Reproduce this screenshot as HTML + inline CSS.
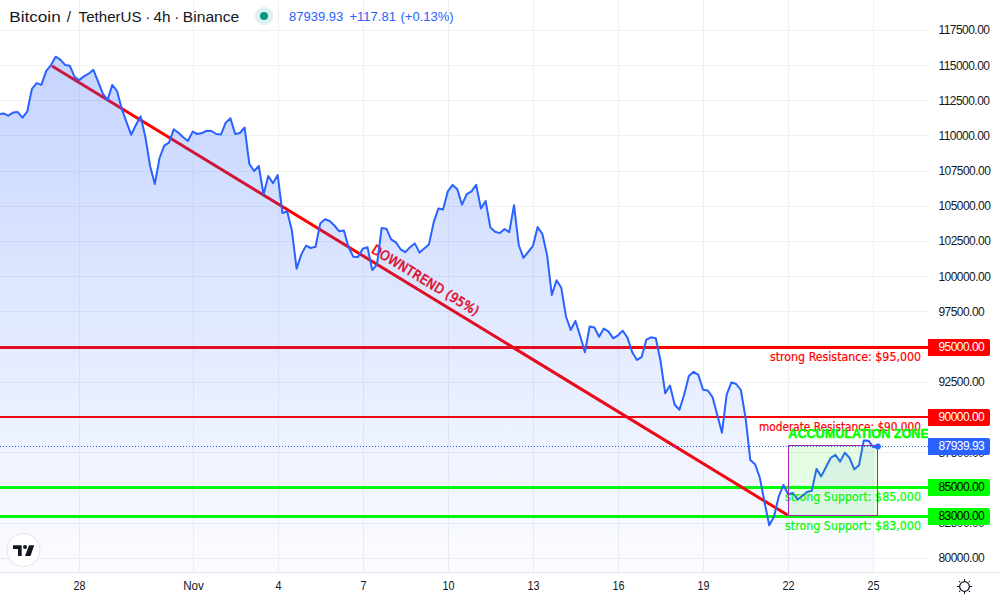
<!DOCTYPE html>
<html><head><meta charset="utf-8"><style>
html,body{margin:0;padding:0;background:#fff;width:1000px;height:600px;overflow:hidden}
svg{display:block}
.ax{font-family:"Liberation Sans",sans-serif;font-size:12px;fill:#131722;letter-spacing:-0.55px}
.tm{font-family:"Liberation Sans",sans-serif;font-size:12px;fill:#131722}
.ann{font-family:"DejaVu Sans Condensed","DejaVu Sans",sans-serif;font-size:12px;stroke-width:0.2px}
</style></head><body>
<svg width="1000" height="600" viewBox="0 0 1000 600">
<defs>
<linearGradient id="ag" x1="0" y1="56" x2="0" y2="572" gradientUnits="userSpaceOnUse">
<stop offset="0" stop-color="#2962ff" stop-opacity="0.27"/>
<stop offset="1" stop-color="#2962ff" stop-opacity="0.016"/>
</linearGradient>
<clipPath id="pane"><rect x="0" y="0" width="928" height="572"/></clipPath>
</defs>
<rect width="1000" height="600" fill="#fff"/>
<g fill="#f0f0f2">
<rect x="0" y="30" width="928" height="1"/>
<rect x="0" y="65" width="928" height="1"/>
<rect x="0" y="100" width="928" height="1"/>
<rect x="0" y="135" width="928" height="1"/>
<rect x="0" y="171" width="928" height="1"/>
<rect x="0" y="206" width="928" height="1"/>
<rect x="0" y="241" width="928" height="1"/>
<rect x="0" y="276" width="928" height="1"/>
<rect x="0" y="311" width="928" height="1"/>
<rect x="0" y="347" width="928" height="1"/>
<rect x="0" y="382" width="928" height="1"/>
<rect x="0" y="417" width="928" height="1"/>
<rect x="0" y="452" width="928" height="1"/>
<rect x="0" y="487" width="928" height="1"/>
<rect x="0" y="523" width="928" height="1"/>
<rect x="0" y="558" width="928" height="1"/>
<rect x="79" y="0" width="1" height="572"/>
<rect x="193" y="0" width="1" height="572"/>
<rect x="278" y="0" width="1" height="572"/>
<rect x="363" y="0" width="1" height="572"/>
<rect x="448" y="0" width="1" height="572"/>
<rect x="533" y="0" width="1" height="572"/>
<rect x="618" y="0" width="1" height="572"/>
<rect x="703" y="0" width="1" height="572"/>
<rect x="788" y="0" width="1" height="572"/>
<rect x="873" y="0" width="1" height="572"/>
</g>
<g clip-path="url(#pane)">
<!-- drawings under fill -->
<rect x="0" y="346" width="928" height="3" fill="#ff0000"/>
<rect x="0" y="416" width="928" height="2" fill="#ff0000"/>
<rect x="0" y="486" width="928" height="3" fill="#00ff00"/>
<rect x="0" y="515" width="928" height="3" fill="#00ff00"/>
<line x1="52" y1="66" x2="787.5" y2="515" stroke="#ff0000" stroke-width="3"/>
<text class="ann" fill="#ff0000" stroke="#ff0000" x="921" y="360.8" text-anchor="end" textLength="151" lengthAdjust="spacingAndGlyphs">strong Resistance: $95,000</text>
<text class="ann" fill="#ff0000" stroke="#ff0000" x="921" y="431" text-anchor="end" textLength="162" lengthAdjust="spacingAndGlyphs">moderate Resistance: $90,000</text>
<text class="ann" fill="#00ff00" stroke="#00ff00" x="921" y="500.6" text-anchor="end" textLength="136" lengthAdjust="spacingAndGlyphs">strong Support: $85,000</text>
<text class="ann" fill="#00ff00" stroke="#00ff00" x="921" y="529.6" text-anchor="end" textLength="136" lengthAdjust="spacingAndGlyphs">strong Support: $83,000</text>
<text class="ann" fill="#ff0000" stroke="#ff0000" stroke-width="0.55" style="font-size:13.3px;font-family:'DejaVu Sans Condensed','DejaVu Sans',sans-serif;stroke-width:0.55px" transform="translate(370.6,252.2) rotate(31.40)" textLength="123">DOWNTREND (95%)</text>
<!-- area -->
<path d="M0.00,114.00 L3.58,113.40 L8.31,115.70 L13.03,112.60 L17.76,112.10 L22.49,117.70 L27.21,111.60 L31.94,88.90 L36.66,83.10 L41.39,84.90 L46.12,71.10 L50.84,65.30 L55.57,56.70 L60.30,59.60 L65.02,64.90 L69.75,65.70 L74.47,76.70 L79.20,80.10 L83.93,76.30 L88.65,73.70 L93.38,69.80 L98.10,81.70 L102.83,93.60 L107.56,100.10 L112.28,84.90 L117.01,91.00 L121.74,108.80 L126.46,121.80 L131.19,134.80 L135.91,125.00 L140.64,116.40 L145.37,137.00 L150.09,166.00 L154.82,184.00 L159.54,158.00 L164.27,145.70 L169.00,142.70 L173.72,129.30 L178.45,132.70 L183.18,137.30 L187.90,141.00 L192.63,131.60 L197.35,134.00 L202.08,133.00 L206.81,130.70 L211.53,131.00 L216.26,134.00 L220.99,134.40 L225.71,122.70 L230.44,118.30 L235.16,134.00 L239.89,133.00 L244.62,127.50 L249.34,164.00 L254.07,171.00 L258.79,166.00 L263.52,194.50 L268.25,176.00 L272.97,183.30 L277.70,175.00 L282.43,213.10 L287.15,211.30 L291.88,230.60 L296.60,268.70 L301.33,254.40 L306.06,245.60 L310.78,248.00 L315.51,246.70 L320.23,223.60 L324.96,219.20 L329.69,221.00 L334.41,225.50 L339.14,231.30 L343.87,230.40 L348.59,247.30 L353.32,256.70 L358.04,257.00 L362.77,248.70 L367.50,247.30 L372.22,270.00 L376.95,264.70 L381.67,228.00 L386.40,228.70 L391.13,239.30 L395.85,242.40 L400.58,249.30 L405.31,252.10 L410.03,247.30 L414.76,243.40 L419.48,252.60 L424.21,248.40 L428.94,244.40 L433.66,222.40 L438.39,208.60 L443.11,209.40 L447.84,191.30 L452.57,184.90 L457.29,189.20 L462.02,204.70 L466.75,194.10 L471.47,191.30 L476.20,184.90 L480.92,208.50 L485.65,201.10 L490.38,227.60 L495.10,231.80 L499.83,233.10 L504.56,229.10 L509.28,232.20 L514.01,205.20 L518.73,245.00 L523.46,257.90 L528.19,252.00 L532.91,246.00 L537.64,227.10 L542.36,234.00 L547.09,255.10 L551.82,295.00 L556.54,280.30 L561.27,287.80 L566.00,316.50 L570.72,330.00 L575.45,321.00 L580.17,336.00 L584.90,352.30 L589.63,326.60 L594.35,327.50 L599.08,336.80 L603.80,328.60 L608.53,331.60 L613.26,338.30 L617.98,335.30 L622.71,330.80 L627.44,337.60 L632.16,352.00 L636.89,359.90 L641.61,357.10 L646.34,339.70 L651.07,337.30 L655.79,338.20 L660.52,360.80 L665.24,393.30 L669.97,385.60 L674.70,404.80 L679.42,409.80 L684.15,394.70 L688.88,376.00 L693.60,371.80 L698.33,374.90 L703.05,389.80 L707.78,390.50 L712.51,397.10 L717.23,414.70 L721.96,432.70 L726.68,394.70 L731.41,382.40 L736.14,384.00 L740.86,390.00 L745.59,418.00 L750.32,460.00 L755.04,464.20 L759.77,477.50 L764.49,501.70 L769.22,525.30 L773.95,516.70 L778.67,496.70 L783.40,485.00 L788.13,494.20 L792.85,493.00 L797.58,499.50 L802.30,496.00 L807.03,492.00 L811.76,490.70 L816.48,468.90 L821.21,476.40 L825.93,467.30 L830.66,458.00 L835.39,454.70 L840.11,461.60 L844.84,452.70 L849.57,458.00 L854.29,469.30 L859.02,465.30 L863.74,440.40 L868.47,440.70 L873.20,447.20 L873.20,572 L0,572 Z" fill="url(#ag)"/>
<path d="M0.00,114.00 L3.58,113.40 L8.31,115.70 L13.03,112.60 L17.76,112.10 L22.49,117.70 L27.21,111.60 L31.94,88.90 L36.66,83.10 L41.39,84.90 L46.12,71.10 L50.84,65.30 L55.57,56.70 L60.30,59.60 L65.02,64.90 L69.75,65.70 L74.47,76.70 L79.20,80.10 L83.93,76.30 L88.65,73.70 L93.38,69.80 L98.10,81.70 L102.83,93.60 L107.56,100.10 L112.28,84.90 L117.01,91.00 L121.74,108.80 L126.46,121.80 L131.19,134.80 L135.91,125.00 L140.64,116.40 L145.37,137.00 L150.09,166.00 L154.82,184.00 L159.54,158.00 L164.27,145.70 L169.00,142.70 L173.72,129.30 L178.45,132.70 L183.18,137.30 L187.90,141.00 L192.63,131.60 L197.35,134.00 L202.08,133.00 L206.81,130.70 L211.53,131.00 L216.26,134.00 L220.99,134.40 L225.71,122.70 L230.44,118.30 L235.16,134.00 L239.89,133.00 L244.62,127.50 L249.34,164.00 L254.07,171.00 L258.79,166.00 L263.52,194.50 L268.25,176.00 L272.97,183.30 L277.70,175.00 L282.43,213.10 L287.15,211.30 L291.88,230.60 L296.60,268.70 L301.33,254.40 L306.06,245.60 L310.78,248.00 L315.51,246.70 L320.23,223.60 L324.96,219.20 L329.69,221.00 L334.41,225.50 L339.14,231.30 L343.87,230.40 L348.59,247.30 L353.32,256.70 L358.04,257.00 L362.77,248.70 L367.50,247.30 L372.22,270.00 L376.95,264.70 L381.67,228.00 L386.40,228.70 L391.13,239.30 L395.85,242.40 L400.58,249.30 L405.31,252.10 L410.03,247.30 L414.76,243.40 L419.48,252.60 L424.21,248.40 L428.94,244.40 L433.66,222.40 L438.39,208.60 L443.11,209.40 L447.84,191.30 L452.57,184.90 L457.29,189.20 L462.02,204.70 L466.75,194.10 L471.47,191.30 L476.20,184.90 L480.92,208.50 L485.65,201.10 L490.38,227.60 L495.10,231.80 L499.83,233.10 L504.56,229.10 L509.28,232.20 L514.01,205.20 L518.73,245.00 L523.46,257.90 L528.19,252.00 L532.91,246.00 L537.64,227.10 L542.36,234.00 L547.09,255.10 L551.82,295.00 L556.54,280.30 L561.27,287.80 L566.00,316.50 L570.72,330.00 L575.45,321.00 L580.17,336.00 L584.90,352.30 L589.63,326.60 L594.35,327.50 L599.08,336.80 L603.80,328.60 L608.53,331.60 L613.26,338.30 L617.98,335.30 L622.71,330.80 L627.44,337.60 L632.16,352.00 L636.89,359.90 L641.61,357.10 L646.34,339.70 L651.07,337.30 L655.79,338.20 L660.52,360.80 L665.24,393.30 L669.97,385.60 L674.70,404.80 L679.42,409.80 L684.15,394.70 L688.88,376.00 L693.60,371.80 L698.33,374.90 L703.05,389.80 L707.78,390.50 L712.51,397.10 L717.23,414.70 L721.96,432.70 L726.68,394.70 L731.41,382.40 L736.14,384.00 L740.86,390.00 L745.59,418.00 L750.32,460.00 L755.04,464.20 L759.77,477.50 L764.49,501.70 L769.22,525.30 L773.95,516.70 L778.67,496.70 L783.40,485.00 L788.13,494.20 L792.85,493.00 L797.58,499.50 L802.30,496.00 L807.03,492.00 L811.76,490.70 L816.48,468.90 L821.21,476.40 L825.93,467.30 L830.66,458.00 L835.39,454.70 L840.11,461.60 L844.84,452.70 L849.57,458.00 L854.29,469.30 L859.02,465.30 L863.74,440.40 L868.47,440.70 L873.20,447.20 L877.92,446.40" fill="none" stroke="#2962ff" stroke-width="2" stroke-linejoin="round" stroke-linecap="round"/>
<!-- last price dotted line -->
<line x1="0" y1="446.5" x2="928" y2="446.5" stroke="#2962ff" stroke-width="1" stroke-dasharray="1 2"/>
<!-- rectangle -->
<rect x="788.5" y="445.5" width="89" height="70" fill="rgba(20,235,0,0.11)" stroke="#9c27b0" stroke-width="1"/>
<circle cx="877.9" cy="446.4" r="3" fill="#2962ff"/>
<text font-family="'Liberation Sans', sans-serif" font-weight="bold" font-size="12.5" fill="#00ff00" stroke="#00ff00" stroke-width="0.45" x="788.3" y="437.7" textLength="140.5" lengthAdjust="spacingAndGlyphs">ACCUMULATION ZONE</text>
</g>
<!-- price axis -->
<rect x="928" y="0" width="72" height="572" fill="#fff"/>
<g class="ax">
<text x="938.5" y="33.6">117500.00</text>
<text x="938.5" y="69.6">115000.00</text>
<text x="938.5" y="104.6">112500.00</text>
<text x="938.5" y="139.6">110000.00</text>
<text x="938.5" y="174.6">107500.00</text>
<text x="938.5" y="209.6">105000.00</text>
<text x="938.5" y="244.6">102500.00</text>
<text x="938.5" y="280.6">100000.00</text>
<text x="938.5" y="315.6">97500.00</text>
<text x="938.5" y="385.6">92500.00</text>
<text x="938.5" y="456.6">87500.00</text>
<text x="938.5" y="526.6">82500.00</text>
<text x="938.5" y="561.6">80000.00</text>
</g>
<path d="M928,339 H988 a2,2 0 0 1 2,2 V354 a2,2 0 0 1 -2,2 H928 Z" fill="#ff0000"/>
<text class="ax" x="938.5" y="351.1" style="fill:#fff">95000.00</text>
<path d="M928,409 H988 a2,2 0 0 1 2,2 V424 a2,2 0 0 1 -2,2 H928 Z" fill="#ff0000"/>
<text class="ax" x="938.5" y="421.1" style="fill:#fff">90000.00</text>
<path d="M928,479 H988 a2,2 0 0 1 2,2 V494 a2,2 0 0 1 -2,2 H928 Z" fill="#00ff00"/>
<text class="ax" x="938.5" y="491.1" style="fill:#000">85000.00</text>
<path d="M928,508 H988 a2,2 0 0 1 2,2 V523 a2,2 0 0 1 -2,2 H928 Z" fill="#00ff00"/>
<text class="ax" x="938.5" y="520.1" style="fill:#000">83000.00</text>
<path d="M928,438 H988 a2,2 0 0 1 2,2 V453 a2,2 0 0 1 -2,2 H928 Z" fill="#2962ff"/>
<text class="ax" x="938.5" y="450.0" style="fill:#fff">87939.93</text>
<!-- time axis -->
<rect x="0" y="572" width="927" height="1" fill="#e0e3eb"/>
<rect x="929" y="572" width="71" height="1" fill="#e0e3eb"/>
<g class="tm">
<text transform="translate(79.5,590) scale(0.9,1)" text-anchor="middle">28</text>
<text transform="translate(193.5,590) scale(0.97,1)" text-anchor="middle">Nov</text>
<text transform="translate(278.5,590) scale(0.9,1)" text-anchor="middle">4</text>
<text transform="translate(363.5,590) scale(0.9,1)" text-anchor="middle">7</text>
<text transform="translate(448.5,590) scale(0.9,1)" text-anchor="middle">10</text>
<text transform="translate(533.5,590) scale(0.9,1)" text-anchor="middle">13</text>
<text transform="translate(618.5,590) scale(0.9,1)" text-anchor="middle">16</text>
<text transform="translate(703.5,590) scale(0.9,1)" text-anchor="middle">19</text>
<text transform="translate(788.5,590) scale(0.9,1)" text-anchor="middle">22</text>
<text transform="translate(873.5,590) scale(0.9,1)" text-anchor="middle">25</text>
</g>
<!-- gear -->
<circle cx="964.5" cy="586.5" r="4.85" fill="none" stroke="#131722" stroke-width="1.25"/>
<g fill="#131722">
<rect x="964" y="579" width="1" height="2.6"/>
<rect x="964" y="591.4" width="1" height="2.6"/>
<rect x="957" y="586" width="2.6" height="1"/>
<rect x="969.4" y="586" width="2.6" height="1"/>
<rect x="959" y="581" width="1.2" height="1.2"/>
<rect x="968.8" y="581" width="1.2" height="1.2"/>
<rect x="959" y="590.8" width="1.2" height="1.2"/>
<rect x="968.8" y="590.8" width="1.2" height="1.2"/>
</g>
<!-- header -->
<g font-family="'Liberation Sans', sans-serif" font-size="15.3" fill="#131722">
<text x="9.2" y="22" textLength="51.5" lengthAdjust="spacingAndGlyphs">Bitcoin</text>
<text x="66.8" y="22">/</text>
<text x="78.6" y="22" textLength="63" lengthAdjust="spacingAndGlyphs">TetherUS</text>
<text x="147.8" y="22" text-anchor="middle">·</text>
<text x="153.4" y="22" textLength="17" lengthAdjust="spacingAndGlyphs">4h</text>
<text x="176.9" y="22" text-anchor="middle">·</text>
<text x="182.8" y="22" textLength="56.5" lengthAdjust="spacingAndGlyphs">Binance</text>
</g>
<circle cx="264" cy="16" r="9" fill="#089981" fill-opacity="0.14"/>
<circle cx="264" cy="16" r="4" fill="#089981"/>
<g font-family="'Liberation Sans', sans-serif" font-size="13" fill="#2962ff">
<text x="289" y="21">87939.93</text>
<text x="349.5" y="21">+117.81</text>
<text x="400.5" y="21">(+0.13%)</text>
</g>
<!-- TV logo -->
<circle cx="23.5" cy="550" r="16.5" fill="#fff" stroke="#e0e3eb" stroke-width="1"/>
<g fill="#131722">
<path d="M13,545.2 H21.7 V556 H18 V549 H13 Z"/>
<circle cx="25" cy="547.1" r="2"/>
<path d="M29,545.2 H34.2 L30.5,556 H25 Z"/>
</g>
</svg>
</body></html>
